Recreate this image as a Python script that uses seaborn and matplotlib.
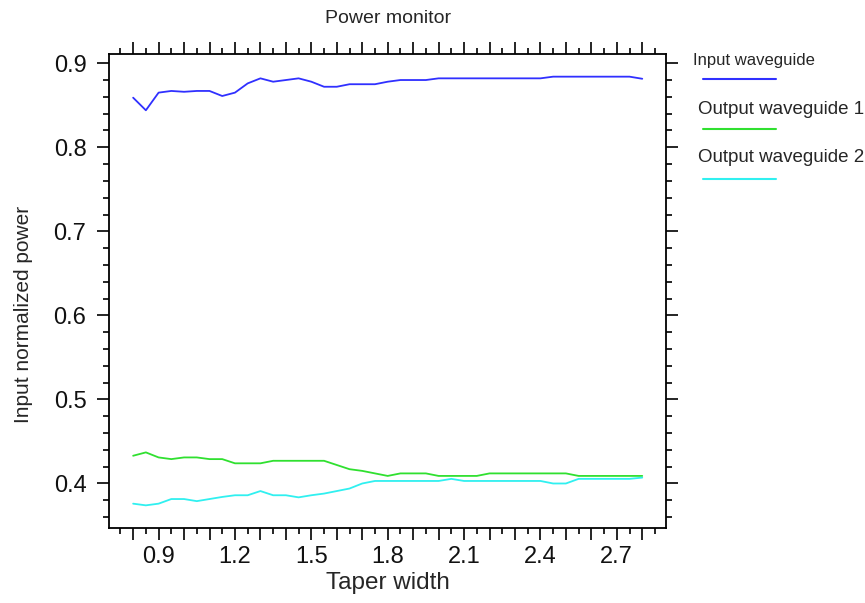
import numpy as np
import pandas as pd
import matplotlib
matplotlib.use("Agg")
import matplotlib.pyplot as plt
from matplotlib.lines import Line2D
from matplotlib.ticker import MultipleLocator
import seaborn as sns

taper_width = [0.80, 0.85, 0.90, 0.95, 1.00, 1.05, 1.10, 1.15, 1.20, 1.25,
               1.30, 1.35, 1.40, 1.45, 1.50, 1.55, 1.60, 1.65, 1.70, 1.75,
               1.80, 1.85, 1.90, 1.95, 2.00, 2.05, 2.10, 2.15, 2.20, 2.25,
               2.30, 2.35, 2.40, 2.45, 2.50, 2.55, 2.60, 2.65, 2.70, 2.75, 2.80]

input_wg = [0.859, 0.844, 0.865, 0.867, 0.866, 0.867, 0.867, 0.861, 0.865, 0.876,
            0.882, 0.878, 0.880, 0.882, 0.878, 0.872, 0.872, 0.875, 0.875, 0.875,
            0.878, 0.880, 0.880, 0.880, 0.882, 0.882, 0.882, 0.882, 0.882, 0.882,
            0.882, 0.882, 0.882, 0.884, 0.884, 0.884, 0.884, 0.884, 0.884, 0.884, 0.8815]

output_wg1 = [0.433, 0.437, 0.431, 0.429, 0.431, 0.431, 0.429, 0.429, 0.424, 0.424,
              0.424, 0.427, 0.427, 0.427, 0.427, 0.427, 0.422, 0.417, 0.415, 0.412,
              0.409, 0.412, 0.412, 0.412, 0.409, 0.409, 0.409, 0.409, 0.412, 0.412,
              0.412, 0.412, 0.412, 0.412, 0.412, 0.409, 0.409, 0.409, 0.409, 0.409, 0.409]

output_wg2 = [0.376, 0.374, 0.376, 0.3815, 0.3815, 0.379, 0.3815, 0.384, 0.386, 0.386,
              0.391, 0.386, 0.386, 0.3835, 0.386, 0.388, 0.391, 0.394, 0.400, 0.403,
              0.403, 0.403, 0.403, 0.403, 0.403, 0.4055, 0.403, 0.403, 0.403, 0.403,
              0.403, 0.403, 0.403, 0.400, 0.400, 0.4055, 0.4055, 0.4055, 0.4055, 0.4055, 0.407]

series_names = ["Input waveguide", "Output waveguide 1", "Output waveguide 2"]
line_colors = ["#3030ff", "#30e030", "#30f0f0"]

x_ticks = [0.8, 0.9, 1.0, 1.1, 1.2, 1.3, 1.4, 1.5, 1.6, 1.7, 1.8,
           1.9, 2.0, 2.1, 2.2, 2.3, 2.4, 2.5, 2.6, 2.7, 2.8]
x_tick_labels = ["", "0.9", "", "", "1.2", "", "", "1.5", "", "", "1.8",
                 "", "", "2.1", "", "", "2.4", "", "", "2.7", ""]
y_ticks = [0.4, 0.5, 0.6, 0.7, 0.8, 0.9]
y_tick_labels = ["0.4", "0.5", "0.6", "0.7", "0.8", "0.9"]

df = pd.DataFrame({
    "width": taper_width * 3,
    "power": input_wg + output_wg1 + output_wg2,
    "series": [s for s in series_names for _ in taper_width],
})

sns.set_style("ticks")
plt.rcParams["font.family"] = ["Liberation Sans", "DejaVu Sans"]

fig = plt.figure(figsize=(8.65, 6.03), dpi=100)
ax = fig.add_axes([0.1264, 0.1239, 0.6436, 0.7866])

sns.lineplot(data=df, x="width", y="power", hue="series", hue_order=series_names,
             palette=line_colors, linewidth=1.3, legend=False, ax=ax)

ax.set_xlim(0.7065, 2.8935)
ax.set_ylim(0.3467, 0.911)
ax.set_xticks(x_ticks)
ax.set_xticklabels(x_tick_labels)
ax.set_yticks(y_ticks)
ax.set_yticklabels(y_tick_labels)
ax.xaxis.set_minor_locator(MultipleLocator(0.05))
ax.yaxis.set_minor_locator(MultipleLocator(0.02))

for sp in ax.spines.values():
    sp.set_visible(True)
    sp.set_color("black")
    sp.set_linewidth(1.3)

ax.tick_params(which="both", direction="out", top=True, right=True,
               color="black", width=1.2, labelsize=17, labelcolor="#111111")
ax.tick_params(which="major", length=8.5)
ax.tick_params(which="minor", length=4)
ax.tick_params(axis="x", pad=4)
ax.tick_params(axis="y", pad=8)

ax.set_xlabel("Taper width", fontsize=17.5, labelpad=3)
ax.set_ylabel("Input normalized power", fontsize=15)
ax.yaxis.set_label_coords(-0.137, 0.45)
ax.set_title("Power monitor", fontsize=14, pad=22)

# legend: label text with a line sample beneath it
legend_rows = [(693, 60, 79, 12), (698, 109, 129, 13.5), (698, 158, 179, 13.5)]
W, H = 865.0, 603.0
for name, color, (tx, ty, ly, fs) in zip(series_names, line_colors, legend_rows):
    fig.text(tx / W, 1 - ty / H, name, fontsize=fs, va="center", ha="left")
    fig.add_artist(Line2D([703 / W, 776 / W], [1 - ly / H, 1 - ly / H],
                          color=color, linewidth=1.5))

fig.savefig("out.png", dpi=100, facecolor="white")
